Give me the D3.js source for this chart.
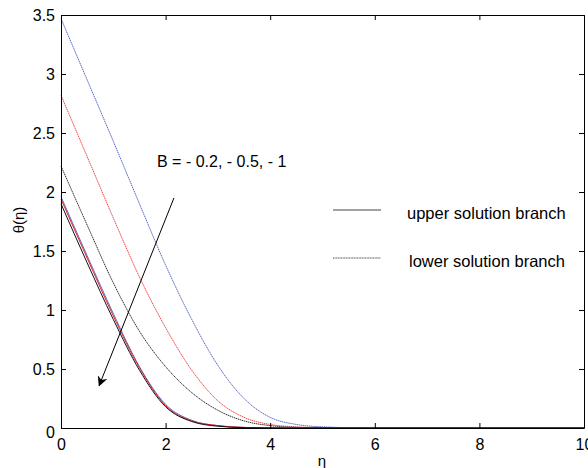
<!DOCTYPE html>
<meta charset="utf-8">
<title>theta profiles</title>
<head>
    <script src="https://cdn.jsdelivr.net/npm/d3@7"></script>
</head>
<body style="margin: 0px; background: #fff">
<script>

    // eta grid and theta(eta) profiles
    var eta = [0, 0.5, 1, 1.5, 2, 2.5, 3, 3.5, 4, 4.5, 5, 6, 7, 8, 9, 10]
    var upperBlack = [1.90, 1.40, 0.92, 0.49, 0.18, 0.055, 0.015, 0.003, 0, 0, 0, 0, 0, 0, 0, 0]
    var upperRed = [1.94, 1.44, 0.95, 0.51, 0.19, 0.06, 0.02, 0.005, 0.001, 0, 0, 0, 0, 0, 0, 0]
    var upperBlue = [1.96, 1.46, 0.97, 0.52, 0.20, 0.065, 0.02, 0.005, 0.001, 0, 0, 0, 0, 0, 0, 0]
    var lowerBlack = [2.22, 1.72, 1.23, 0.82, 0.52, 0.30, 0.15, 0.06, 0.02, 0.005, 0.001, 0, 0, 0, 0, 0]
    var lowerRed = [2.82, 2.30, 1.78, 1.28, 0.85, 0.49, 0.23, 0.09, 0.03, 0.01, 0.003, 0, 0, 0, 0, 0]
    var lowerBlue = [3.47, 2.95, 2.43, 1.90, 1.38, 0.92, 0.53, 0.25, 0.09, 0.03, 0.01, 0, 0, 0, 0, 0]

    var xTicks = [0, 2, 4, 6, 8, 10]
    var yTicks = [0, 0.5, 1, 1.5, 2, 2.5, 3, 3.5]
    var legendLabels = ["upper solution branch", "lower solution branch"]
    var annotation = "B = - 0.2, - 0.5, - 1"

    var width = 588,
            height = 468,
            padL = 61, padR = 584, padT = 15, padB = 428;

    var svg = d3.select("body").append("svg")
            .attr("width", width)
            .attr("height", height)
            .style("font-family", "Liberation Sans, Arial, sans-serif")

    var x = d3.scaleLinear().domain([0, 10]).range([padL, padR])
    var y = d3.scaleLinear().domain([0, 3.5]).range([padB, padT])

    var series = [
        {v: lowerBlue, c: "#5a68c8", dash: "1.5,0.6"},
        {v: lowerRed, c: "#f04a4a", dash: "1.5,0.6"},
        {v: lowerBlack, c: "#333", dash: "1.5,0.6"},
        {v: upperBlue, c: "#5a68c8", dash: null},
        {v: upperRed, c: "#e82020", dash: null},
        {v: upperBlack, c: "#111", dash: null}
    ]

    var line = d3.line()
            .x(function (d, i) { return x(eta[i]) })
            .y(function (d) { return y(d) })
            .curve(d3.curveMonotoneX)

    series.forEach(function (s) {
        svg.append("path")
                .attr("d", line(s.v))
                .attr("fill", "none")
                .attr("stroke", s.c)
                .attr("stroke-width", 1)
                .attr("stroke-dasharray", s.dash)
    })

    // box with inward ticks on all four sides
    var tickLen = 5
    var bottomAxis = d3.axisBottom(x).tickValues(xTicks).tickSizeInner(-tickLen).tickSizeOuter(0).tickPadding(11)
    var topAxis = d3.axisTop(x).tickValues(xTicks).tickSizeInner(-tickLen).tickSizeOuter(0).tickFormat("")
    var leftAxis = d3.axisLeft(y).tickValues(yTicks).tickSizeInner(-tickLen).tickSizeOuter(0).tickPadding(6)
            .tickFormat(function (d) { return d })
    var rightAxis = d3.axisRight(y).tickValues(yTicks).tickSizeInner(-tickLen).tickSizeOuter(0).tickFormat("")

    function styleAxis(g) {
        g.selectAll("path").attr("stroke", "#000")
        g.selectAll("line").attr("stroke", "#000")
        g.selectAll("text").attr("fill", "#000").style("font-size", "16px")
                .style("font-family", "Liberation Sans, Arial, sans-serif")
    }

    svg.append("g").attr("transform", "translate(0," + padB + ")").call(bottomAxis).call(styleAxis)
    svg.append("g").attr("transform", "translate(0," + padT + ")").call(topAxis).call(styleAxis)
    var gl = svg.append("g").attr("transform", "translate(" + padL + ",0)").call(leftAxis).call(styleAxis)
    gl.selectAll(".tick").filter(function (d) { return d === 0 }).select("text").attr("dy", "0.62em")
    svg.append("g").attr("transform", "translate(" + padR + ",0)").call(rightAxis).call(styleAxis)

    svg.append("text")
            .attr("x", 322)
            .attr("y", 466)
            .attr("text-anchor", "middle")
            .style("font-size", "15px")
            .text("η")

    svg.append("text")
            .attr("transform", "translate(24,220) rotate(-90)")
            .attr("text-anchor", "middle")
            .style("font-size", "15px")
            .text("θ(η)")

    // annotation and arrow
    svg.append("text")
            .attr("x", 157)
            .attr("y", 167)
            .style("font-size", "16px")
            .text(annotation)

    svg.append("defs").append("marker")
            .attr("id", "head")
            .attr("viewBox", "0 0 10 10")
            .attr("refX", 9).attr("refY", 5)
            .attr("markerWidth", 10).attr("markerHeight", 10)
            .attr("markerUnits", "userSpaceOnUse")
            .attr("orient", "auto")
            .append("path")
            .attr("d", "M0,0 L10,5 L0,10 L3,5 Z")
            .attr("fill", "#000")

    svg.append("line")
            .attr("x1", x(2.16)).attr("y1", y(1.95))
            .attr("x2", x(0.73)).attr("y2", y(0.36))
            .attr("stroke", "#000")
            .attr("stroke-width", 1)
            .attr("marker-end", "url(#head)")

    // legend
    legendLabels.forEach(function (lab, i) {
        var ly = 210 + i * 48
        svg.append("line")
                .attr("x1", 333).attr("x2", 381)
                .attr("y1", ly).attr("y2", ly)
                .attr("stroke", "#444")
                .attr("stroke-width", 1)
                .attr("stroke-dasharray", i === 0 ? null : "1,0.6")
        svg.append("text")
                .attr("x", i === 0 ? 407 : 409)
                .attr("y", ly + 9)
                .style("font-size", "16.5px")
                .text(lab)
    })

</script>
</body>
